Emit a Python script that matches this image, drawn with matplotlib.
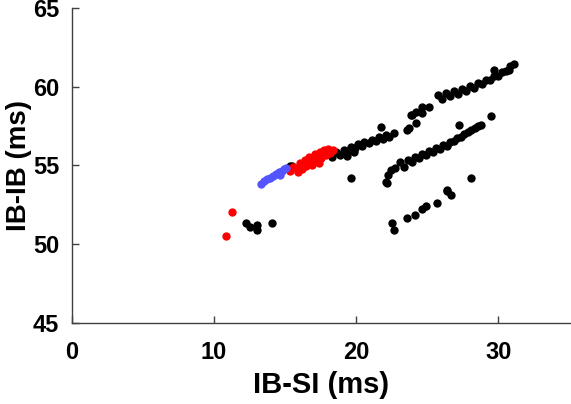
import matplotlib
matplotlib.use("Agg")
import matplotlib.pyplot as plt

# blue cluster (short IB-SI)
blue_x = [13.33, 13.54, 13.75, 13.96, 14.18, 14.39, 14.60, 14.81, 14.95, 15.09, 14.67]
blue_y = [53.81, 54.00, 54.13, 54.19, 54.32, 54.45, 54.57, 54.64, 54.76, 54.83, 54.38]

# red cluster
red_x = [10.87, 11.30,
         15.37, 15.58, 15.87, 16.08, 16.22, 16.43, 16.50, 16.71, 16.78, 16.99,
         17.13, 17.20, 17.42, 17.49, 17.70, 17.84, 18.05, 18.19, 18.40, 16.92,
         15.94, 17.35]
red_y = [50.50, 52.05,
         54.64, 54.89, 54.83, 55.15, 54.77, 55.34, 54.96, 55.53, 55.15, 55.46,
         55.72, 55.27, 55.85, 55.46, 55.97, 55.65, 56.04, 55.78, 55.97, 55.02,
         54.57, 55.15]

# everything else
black_x = [
    # low stragglers
    12.27, 12.55, 13.00, 13.03, 14.08,
    # main band
    15.32, 15.49, 18.33, 18.61, 18.89, 19.11, 19.39, 19.60, 19.88, 20.09, 20.37,
    20.58, 20.87, 21.08, 21.36, 21.58, 21.85, 22.06, 22.27, 19.32, 19.81,
    19.60, 21.71, 22.65,
    # upper band
    23.60, 23.70, 23.82, 23.94, 24.18, 24.18, 24.65, 24.65, 25.11,
    25.73, 26.01, 26.29, 26.57, 26.85, 27.13, 27.42, 27.70, 27.98, 28.26, 28.54,
    28.82, 29.11, 29.39, 29.67, 29.95, 30.23, 30.52, 30.80, 31.08, 29.67, 30.73,
    # middle band
    22.06, 22.14, 22.20, 22.42, 22.70, 23.05, 23.33, 23.61, 23.89, 24.11, 24.39,
    24.60, 24.88, 25.10, 25.37, 25.58, 25.87, 26.08, 26.36, 26.57, 26.85, 27.06,
    27.35, 27.56, 27.84, 28.05, 28.33, 28.54, 28.75, 27.20, 29.46,
    28.05, 26.40,
    # bottom band
    22.54, 22.65, 23.60, 24.13, 24.65, 24.88, 25.65, 26.40, 26.64]
black_y = [
    51.35, 51.10, 51.20, 50.90, 51.33,
    54.96, 54.96, 55.53, 55.85, 55.65, 55.97, 55.91, 56.16, 56.10, 56.35, 56.23,
    56.48, 56.42, 56.61, 56.54, 56.80, 56.67, 56.93, 56.80, 55.59, 55.85,
    54.17, 57.45, 57.03,
    57.24, 57.35, 58.20, 58.20, 57.67, 58.41, 58.73, 58.30, 58.73,
    59.47, 59.21, 59.60, 59.41, 59.72, 59.53, 59.85, 59.72, 60.04, 59.91, 60.23,
    60.17, 60.42, 60.42, 60.68, 60.68, 60.93, 61.00, 61.31, 61.44, 61.06, 61.06,
    53.96, 53.90, 54.38, 54.70, 54.83, 55.21, 54.89, 55.34, 55.21, 55.53, 55.46,
    55.72, 55.65, 55.91, 55.85, 56.10, 56.04, 56.29, 56.23, 56.48, 56.54, 56.74,
    56.80, 56.99, 57.12, 57.24, 57.37, 57.50, 57.56, 57.56, 58.13,
    54.20, 53.43,
    51.31, 50.89, 51.63, 51.84, 52.20, 52.41, 52.58, 53.39, 53.11]

plt.rcParams["font.family"] = ["Liberation Sans", "DejaVu Sans"]
plt.rcParams["font.weight"] = "bold"

fig = plt.figure(figsize=(5.71, 4.04), dpi=100)
ax = fig.add_axes([0.1256, 0.2012, 0.872, 0.779])

ax.scatter(black_x, black_y, s=36, color="black", lw=0, zorder=2)
ax.scatter(red_x, red_y, s=36, color="#ff0000", lw=0, zorder=3)
ax.scatter(blue_x, blue_y, s=36, color="#5555ff", lw=0, zorder=4)

ax.set_xlim(0, 35)
ax.set_ylim(45, 65)
ax.set_xticks([0, 10, 20, 30])
ax.set_yticks([45, 50, 55, 60, 65])
for s in ["top", "right"]:
    ax.spines[s].set_visible(False)
for s in ["left", "bottom"]:
    ax.spines[s].set_color("#404040")
    ax.spines[s].set_linewidth(1.0)
ax.tick_params(direction="in", length=5, width=1, color="#404040",
               labelsize=17)
ax.tick_params(axis="x", pad=13)
ax.tick_params(axis="y", pad=9)
ax.set_xlabel("IB-SI (ms)", fontsize=21, fontweight="bold")
ax.set_ylabel("IB-IB (ms)", fontsize=20, fontweight="bold")
ax.xaxis.set_label_coords(0.5, -0.155)
ax.yaxis.set_label_coords(-0.08, 0.5)

fig.savefig("out.png", dpi=100)
